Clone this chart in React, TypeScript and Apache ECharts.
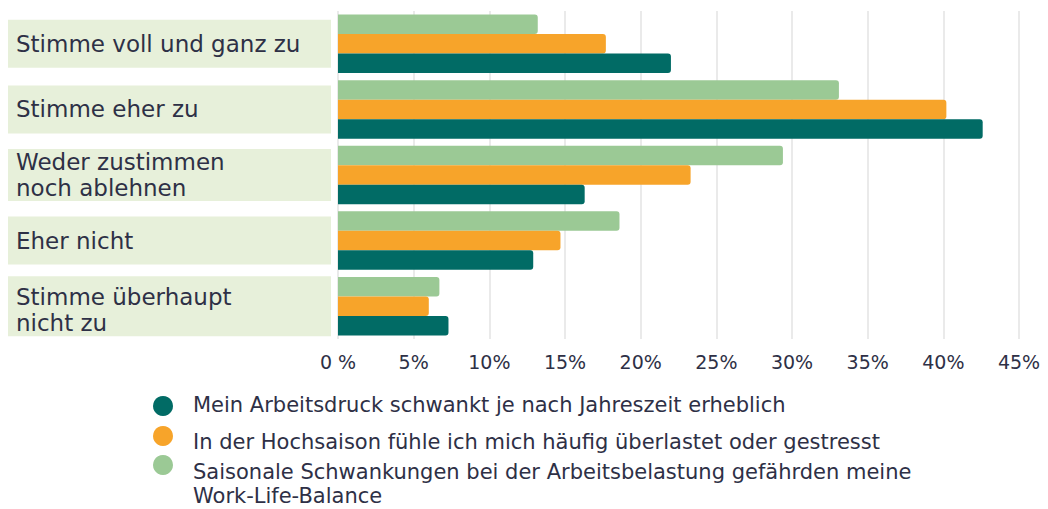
import React, { useEffect, useRef } from "react";
import * as echarts from "echarts";

const categories = [
  "Stimme voll und ganz zu",
  "Stimme eher zu",
  "Weder zustimmen\nnoch ablehnen",
  "Eher nicht",
  "Stimme überhaupt\nnicht zu",
];
const seriesNames = [
  "Mein Arbeitsdruck schwankt je nach Jahreszeit erheblich",
  "In der Hochsaison fühle ich mich häufig überlastet oder gestresst",
  "Saisonale Schwankungen bei der Arbeitsbelastung gefährden meine Work-Life-Balance",
];
const legendLines = [
  ["Mein Arbeitsdruck schwankt je nach Jahreszeit erheblich"],
  ["In der Hochsaison fühle ich mich häufig überlastet oder gestresst"],
  ["Saisonale Schwankungen bei der Arbeitsbelastung gefährden meine", "Work-Life-Balance"],
];
const druck = [22.0, 42.6, 16.3, 12.9, 7.3];
const hochsaison = [17.7, 40.2, 23.3, 14.7, 6.0];
const balance = [13.2, 33.1, 29.4, 18.6, 6.7];
const tickLabels = ["0 %", "5%", "10%", "15%", "20%", "25%", "30%", "35%", "40%", "45%"];

const colors = ["#016b65", "#f7a42a", "#9bc995"];
const textColor = "#2e3046";
const FONT = "'DejaVu Sans', sans-serif";

export default function App() {
  const ref = useRef<HTMLDivElement>(null);
  useEffect(() => {
    if (!ref.current) return;
    const chart = echarts.init(ref.current, undefined, { renderer: "svg" });
    const values = [druck, hochsaison, balance];
    const mkSeries = (i: number) => ({
      type: "bar",
      name: seriesNames[i],
      data: values[i],
      barWidth: 19.5,
      barGap: "0%",
      itemStyle: { color: colors[i], borderRadius: [0, 3, 3, 0] },
    });
    const legendGraphics: any[] = [];
    const iconY = [406, 436, 465];
    const textY = [405, 442, 472];
    const LH = 24;
    legendLines.forEach((lines, i) => {
      legendGraphics.push({
        type: "circle",
        shape: { cx: 163, cy: iconY[i], r: 10 },
        style: { fill: colors[i] },
      });
      legendGraphics.push({
        type: "text",
        x: 193,
        y: textY[i] - LH / 2,
        style: {
          text: lines.join("\n"),
          fill: textColor,
          font: `21px ${FONT}`,
          lineHeight: LH,
          verticalAlign: "top",
        },
      });
    });
    chart.setOption({
      animation: false,
      grid: { left: 338, right: 29, top: 11, bottom: 170, containLabel: false },
      xAxis: {
        type: "value",
        min: 0,
        max: 45,
        interval: 5,
        axisLine: { show: false },
        axisTick: { show: false },
        splitLine: { show: true, lineStyle: { color: "#e3e3e3", width: 1.5 } },
        axisLabel: {
          color: textColor,
          fontFamily: FONT,
          fontSize: 19,
          margin: 13,
          formatter: (v: number) => tickLabels[Math.round(v / 5)],
        },
      },
      yAxis: {
        type: "category",
        inverse: true,
        data: categories,
        axisLine: { show: false },
        axisTick: { show: false },
        axisLabel: {
          margin: 330,
          align: "left",
          backgroundColor: "#e7f0da",
          width: 315,
          padding: [0, 0, 0, 8],
          formatter: (v: string) => {
            const parts = v.split("\n");
            if (parts.length === 1) return `{a|${v}}`;
            if (v.startsWith("Stimme")) return `{d| }\n{b|${parts[0]}}\n{b|${parts[1]}}`;
            return `{b|${parts[0]}}\n{b|${parts[1]}}`;
          },
          rich: {
            a: { fontFamily: FONT, fontSize: 23, color: textColor, lineHeight: 48 },
            b: { fontFamily: FONT, fontSize: 23, color: textColor, lineHeight: 26 },
            d: { fontSize: 4, lineHeight: 8 },
          },
        },
      },
      series: [mkSeries(2), mkSeries(1), mkSeries(0)],
      graphic: legendGraphics,
    });
    return () => chart.dispose();
  }, []);
  return <div ref={ref} style={{ width: 1048, height: 509, position: "absolute", left: 0, top: 0 }} />;
}
